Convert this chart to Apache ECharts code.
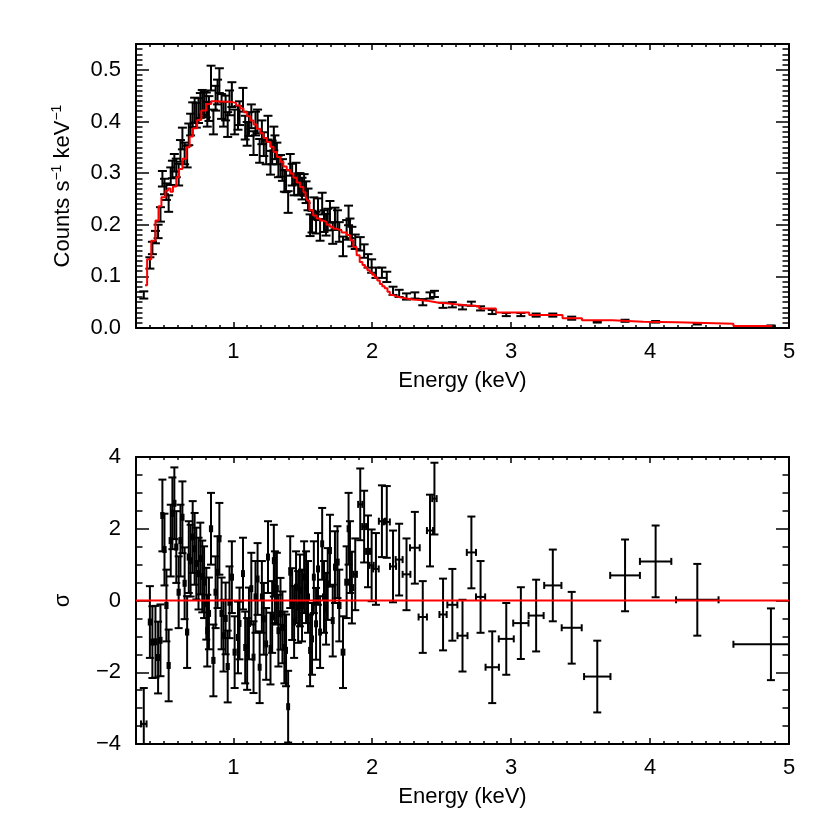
<!DOCTYPE html>
<html><head><meta charset="utf-8">
<script src="https://cdn.jsdelivr.net/npm/echarts@6/dist/echarts.min.js"></script>
<style>html,body{margin:0;padding:0;background:#fff}#c{width:830px;height:830px}</style>
</head><body><div id="c"></div>
<script>
// ---- data ----
const binE = [0.356,0.400,0.418,0.440,0.459,0.476,0.490,0.505,0.519,0.535,0.550,0.562,0.576,0.590,0.607,0.620,0.634,0.650,0.668,0.680,0.693,0.708,0.722,0.734,0.750,0.763,0.777,0.790,0.806,0.813,0.825,0.840,0.857,0.873,0.887,0.900,0.916,0.930,0.945,0.960,0.973,0.990,1.010,
1.034,1.045,1.070,1.086,1.100,1.113,1.130,1.146,1.160,1.175,1.190,1.206,1.220,1.237,1.250,1.268,1.280,1.292,1.300,1.314,1.325,1.340,1.354,1.368,1.380,1.395,1.410,1.424,1.438,1.452,1.467,1.480,1.495,1.510,1.524,1.538,1.553,1.567,1.580,1.596,1.610,1.625,1.640,1.653,1.668,1.680,1.696,1.716,1.732,
1.750,1.763,1.790,1.816,1.830,1.840,1.854,1.878,1.914,1.942,1.970,1.996,2.027,2.070,2.105,2.150,2.194,2.247,2.307,2.364,2.416,2.448,
2.510,2.577,2.650,2.714,2.780,2.864,2.965,3.070,3.180,3.300,3.436,3.620,3.820,4.040,4.340,4.870];

const binHalfWidth = [0.020,0.008,0.008,0.008,0.008,0.008,0.008,0.008,0.008,0.008,0.008,0.008,0.008,0.008,0.008,0.008,0.008,0.008,0.008,0.008,0.008,0.008,0.008,0.008,0.008,0.008,0.008,0.008,0.008,0.008,0.008,0.008,0.008,0.008,0.008,0.008,0.008,0.008,0.008,0.008,0.008,0.008,0.008,
0.007,0.007,0.007,0.007,0.007,0.007,0.007,0.007,0.007,0.007,0.007,0.007,0.007,0.007,0.007,0.007,0.007,0.007,0.007,0.007,0.007,0.007,0.007,0.007,0.007,0.007,0.007,0.007,0.007,0.007,0.007,0.007,0.007,0.007,0.007,0.007,0.007,0.007,0.007,0.007,0.007,0.007,0.007,0.007,0.007,0.007,0.007,0.007,0.007,
0.009,0.009,0.010,0.010,0.007,0.007,0.010,0.012,0.015,0.014,0.014,0.015,0.020,0.022,0.022,0.022,0.025,0.028,0.035,0.030,0.022,0.016,
0.026,0.036,0.036,0.033,0.033,0.048,0.054,0.055,0.054,0.062,0.072,0.095,0.107,0.113,0.153,0.270];

const resid = [-3.44,-0.60,-1.16,-1.15,-1.59,-1.11,2.37,1.42,-0.14,-1.81,1.67,2.43,2.71,1.49,0.23,1.67,2.32,0.48,-0.88,1.21,1.11,1.77,1.44,1.03,0.75,1.17,0.67,0.51,-0.09,-0.84,-0.36,2.00,-1.67,0.23,0.79,1.72,-0.36,-0.98,-0.50,-1.84,-0.05,0.65,-1.44,
-1.03,-0.64,0.75,-1.31,-1.49,-0.64,0.33,-1.58,0.10,0.60,-1.86,0.10,-0.51,-1.21,1.21,-1.34,-0.46,1.11,0.37,0.33,-0.84,-0.37,-0.75,-1.31,-1.39,-2.96,0.79,-0.10,-0.60,0.37,-0.18,0.28,-0.14,0.65,0.37,0.10,-1.39,-1.07,0.65,-0.65,0.88,-0.88,1.58,0.10,-0.23,0.46,1.39,-0.56,0.93,
1.07,-0.14,-1.44,0.51,2.00,1.21,0.36,0.73,2.68,2.06,1.37,0.98,0.88,2.21,2.19,0.95,1.14,0.73,1.47,-0.46,1.95,2.84,
-0.39,-0.12,-0.98,1.34,0.10,-1.86,-1.07,-0.63,-0.42,0.42,-0.76,-2.12,0.70,1.09,0.02,-1.22];

const rate = [0.064,0.126,0.155,0.176,0.187,0.220,0.289,0.274,0.264,0.241,0.294,0.307,0.320,0.310,0.297,0.343,0.367,0.338,0.332,0.375,0.394,0.413,0.422,0.412,0.421,0.431,0.437,0.433,0.432,0.414,0.425,0.484,0.399,0.445,0.457,0.479,0.429,0.414,0.426,0.394,0.436,0.452,0.399,
0.407,0.416,0.442,0.388,0.376,0.395,0.410,0.358,0.396,0.400,0.343,0.379,0.356,0.340,0.388,0.320,0.340,0.367,0.350,0.338,0.313,0.314,0.306,0.285,0.284,0.244,0.316,0.297,0.278,0.299,0.278,0.279,0.270,0.277,0.263,0.249,0.199,0.206,0.232,0.204,0.230,0.190,0.241,0.207,0.200,0.210,0.225,0.184,0.212,
0.209,0.186,0.158,0.190,0.218,0.193,0.177,0.167,0.163,0.149,0.130,0.120,0.107,0.107,0.099,0.072,0.067,0.061,0.063,0.050,0.063,0.066,
0.044,0.045,0.040,0.047,0.038,0.031,0.026,0.026,0.025,0.025,0.019,0.012,0.014,0.012,0.008,0.004];

const rateErr = [0.007,0.011,0.012,0.012,0.013,0.014,0.015,0.015,0.016,0.016,0.017,0.017,0.017,0.018,0.021,0.021,0.021,0.021,0.021,0.021,0.021,0.024,0.024,0.024,0.024,0.024,0.024,0.024,0.024,0.024,0.024,0.024,0.024,0.024,0.024,0.024,0.024,0.024,0.024,0.024,0.024,0.024,0.024,
0.023,0.023,0.023,0.023,0.023,0.023,0.023,0.023,0.023,0.023,0.023,0.023,0.023,0.023,0.023,0.023,0.023,0.023,0.023,0.021,0.021,0.021,0.021,0.021,0.021,0.021,0.021,0.021,0.021,0.021,0.021,0.021,0.021,0.021,0.021,0.021,0.021,0.021,0.021,0.021,0.021,0.021,0.021,0.021,0.021,0.021,0.021,0.021,0.021,
0.019,0.019,0.019,0.019,0.019,0.019,0.019,0.014,0.013,0.013,0.013,0.013,0.010,0.010,0.010,0.008,0.007,0.006,0.006,0.006,0.006,0.006,
0.005,0.005,0.004,0.004,0.004,0.004,0.003,0.003,0.003,0.003,0.003,0.0015,0.002,0.0015,0.0012,0.001];

// model histogram (left bin edges and values)
const modelE = [0.365,0.380,0.410,0.440,0.462,0.483,0.512,0.530,0.548,0.566,0.590,0.610,0.634,0.662,0.686,0.710,0.740,0.770,0.806,0.842,0.878,0.930,0.980,1.020,1.050,1.074,1.100,1.122,1.146,1.170,1.194,1.218,1.242,1.266,1.290,1.314,1.338,1.361,1.385,1.410,1.433,1.457,1.480,1.505,1.520,1.533,1.548,1.575,1.600,1.625,1.648,1.672,1.696,1.720,1.745,1.780,1.816,1.840,1.864,1.888,1.910,1.930,1.948,1.965,1.983,2.000,2.019,2.037,2.055,2.072,2.090,2.110,2.127,2.150,2.175,2.210,2.247,2.290,2.340,2.390,2.438,2.480,2.534,2.600,2.678,2.770,2.890,3.130,3.370,3.510,3.730,3.950,4.190,4.600,4.880];
const modelV = [0.083,0.133,0.169,0.208,0.236,0.253,0.266,0.270,0.264,0.274,0.292,0.308,0.328,0.350,0.371,0.387,0.403,0.421,0.434,0.439,0.438,0.438,0.436,0.431,0.425,0.418,0.410,0.402,0.394,0.386,0.377,0.368,0.360,0.351,0.341,0.331,0.322,0.313,0.306,0.299,0.291,0.282,0.273,0.263,0.255,0.247,0.228,0.218,0.212,0.208,0.205,0.200,0.196,0.192,0.189,0.185,0.180,0.170,0.157,0.141,0.128,0.122,0.117,0.112,0.107,0.103,0.098,0.092,0.085,0.081,0.077,0.070,0.064,0.061,0.059,0.057,0.055,0.054,0.053,0.051,0.049,0.048,0.046,0.044,0.042,0.038,0.030,0.025,0.019,0.015,0.012,0.011,0.008,0.004,0.004];

// ticks
const xMajorTicks = [1,2,3,4,5];
const xTickLabels = ['1','2','3','4','5'];
const xMinorTicks = []; for (let i = 4; i <= 49; i++) if (i % 10) xMinorTicks.push(i / 10);
const topYMajorTicks = [0,0.1,0.2,0.3,0.4,0.5];
const topYTickLabels = ['0.0','0.1','0.2','0.3','0.4','0.5'];
const topYMinorTicks = []; for (let i = 1; i <= 55; i++) if (i % 10) topYMinorTicks.push(i / 100);
const botYMajorTicks = [-4,-2,0,2,4];
const botYTickLabels = ['\u22124','\u22122','0','2','4'];
const botYMinorTicks = []; for (let i = -7; i <= 7; i++) if (i % 4) botYMinorTicks.push(i / 2);

const FONT = 'Liberation Sans, Arial, Helvetica, sans-serif';
const FS = 22;

function xAx(grid, pos, ticks, len, main, name) {
  return {
    type: 'value', gridIndex: grid, position: pos, min: 0.3, max: 5,
    name: name || '', nameLocation: 'middle', nameGap: 42,
    nameTextStyle: {fontFamily: FONT, fontSize: FS, color: '#000'},
    axisLine: {show: main, onZero: false, lineStyle: {color: '#000', width: 2}},
    axisTick: {show: true, inside: true, length: len, customValues: ticks, lineStyle: {color: '#000', width: 1.5}},
    axisLabel: {show: main && pos === 'bottom', customValues: xMajorTicks, margin: 13,
      formatter: v => xTickLabels[xMajorTicks.indexOf(Math.round(v))] || '',
      fontFamily: FONT, fontSize: FS, color: '#000'},
    splitLine: {show: false}
  };
}
function yAx(grid, pos, min, max, ticks, len, main, labelVals, labelTexts, name) {
  return {
    type: 'value', gridIndex: grid, position: pos, min: min, max: max,
    name: name || '', nameLocation: 'middle', nameGap: 60, nameRotate: 90,
    nameTextStyle: {fontFamily: FONT, fontSize: FS, color: '#000', lineHeight: 26,
      rich: {sup: {fontFamily: FONT, fontSize: 14, color: '#000', verticalAlign: 'top', lineHeight: 14}}},
    axisLine: {show: main, onZero: false, lineStyle: {color: '#000', width: 2}},
    axisTick: {show: true, inside: true, length: len, customValues: ticks, lineStyle: {color: '#000', width: 1.5}},
    axisLabel: {show: main && pos === 'left', customValues: labelVals, margin: 15,
      formatter: v => { let k = labelVals.findIndex(t => Math.abs(t - v) < 1e-9); return k >= 0 ? labelTexts[k] : ''; },
      fontFamily: FONT, fontSize: FS, color: '#000'},
    splitLine: {show: false}
  };
}

const xAxes = [
  xAx(0, 'bottom', xMajorTicks, 6, true, 'Energy (keV)'),
  xAx(0, 'bottom', xMinorTicks, 3, false),
  xAx(0, 'top', xMajorTicks, 6, true),
  xAx(0, 'top', xMinorTicks, 3, false),
  xAx(1, 'bottom', xMajorTicks, 6, true, 'Energy (keV)'),
  xAx(1, 'bottom', xMinorTicks, 3, false),
  xAx(1, 'top', xMajorTicks, 6, true),
  xAx(1, 'top', xMinorTicks, 3, false)
];
const yAxes = [
  yAx(0, 'left', 0, 0.55, topYMajorTicks, 13, true, topYMajorTicks, topYTickLabels, 'Counts s{sup|\u22121} keV{sup|\u22121}'),
  yAx(0, 'left', 0, 0.55, topYMinorTicks, 6.5, false, topYMajorTicks, topYTickLabels),
  yAx(0, 'right', 0, 0.55, topYMajorTicks, 13, true, topYMajorTicks, topYTickLabels),
  yAx(0, 'right', 0, 0.55, topYMinorTicks, 6.5, false, topYMajorTicks, topYTickLabels),
  yAx(1, 'left', -4, 4, botYMajorTicks, 13, true, botYMajorTicks, botYTickLabels, '\u03C3'),
  yAx(1, 'left', -4, 4, botYMinorTicks, 6.5, false, botYMajorTicks, botYTickLabels),
  yAx(1, 'right', -4, 4, botYMajorTicks, 13, true, botYMajorTicks, botYTickLabels),
  yAx(1, 'right', -4, 4, botYMinorTicks, 6.5, false, botYMajorTicks, botYTickLabels)
];

const ST = {stroke: '#000', lineWidth: 2};
function renderRate(params, api) {
  const x = api.value(0), y = api.value(1), e = api.value(2);
  const c = api.coord([x, y]), hi = api.coord([x, y + e]), lo = api.coord([x, y - e]);
  const w = 4.5;
  return {type: 'group', children: [
    {type: 'line', shape: {x1: c[0], y1: hi[1], x2: c[0], y2: lo[1]}, style: ST},
    {type: 'line', shape: {x1: c[0] - w, y1: hi[1], x2: c[0] + w, y2: hi[1]}, style: ST},
    {type: 'line', shape: {x1: c[0] - w, y1: lo[1], x2: c[0] + w, y2: lo[1]}, style: ST}
  ]};
}
function renderResid(params, api) {
  const x = api.value(0), r = api.value(1), hw = api.value(2);
  const c = api.coord([x, r]), hi = api.coord([x, r + 1]), lo = api.coord([x, r - 1]);
  const l = api.coord([x - hw, r]), rr = api.coord([x + hw, r]);
  const w = 4, h = 3.5;
  return {type: 'group', children: [
    {type: 'line', shape: {x1: c[0], y1: hi[1], x2: c[0], y2: lo[1]}, style: ST},
    {type: 'line', shape: {x1: c[0] - w, y1: hi[1], x2: c[0] + w, y2: hi[1]}, style: ST},
    {type: 'line', shape: {x1: c[0] - w, y1: lo[1], x2: c[0] + w, y2: lo[1]}, style: ST},
    {type: 'line', shape: {x1: l[0], y1: c[1], x2: rr[0], y2: c[1]}, style: ST},
    {type: 'line', shape: {x1: l[0], y1: c[1] - h, x2: l[0], y2: c[1] + h}, style: ST},
    {type: 'line', shape: {x1: rr[0], y1: c[1] - h, x2: rr[0], y2: c[1] + h}, style: ST}
  ]};
}

const chart = echarts.init(document.getElementById('c'), null, {renderer: 'canvas'});
chart.setOption({
  animation: false,
  backgroundColor: '#fff',
  grid: [
    {left: 136, right: 41, top: 44, height: 284},
    {left: 136, right: 41, top: 457, height: 287}
  ],
  xAxis: xAxes,
  yAxis: yAxes,
  series: [
    {type: 'custom', xAxisIndex: 0, yAxisIndex: 0, clip: true, renderItem: renderRate,
      data: binE.map((e, i) => [e, rate[i], rateErr[i]]), z: 2},
    {type: 'line', xAxisIndex: 0, yAxisIndex: 0, step: 'end', showSymbol: false, clip: true,
      lineStyle: {color: '#ff0000', width: 2}, data: modelE.map((e, i) => [e, modelV[i]]), z: 3},
    {type: 'custom', xAxisIndex: 4, yAxisIndex: 4, clip: true, renderItem: renderResid,
      data: binE.map((e, i) => [e, resid[i], binHalfWidth[i]]), z: 2},
    {type: 'line', xAxisIndex: 4, yAxisIndex: 4, showSymbol: false,
      lineStyle: {color: '#ff0000', width: 2}, data: [[0.3, 0], [5, 0]], z: 3}
  ]
});
</script></body></html>
